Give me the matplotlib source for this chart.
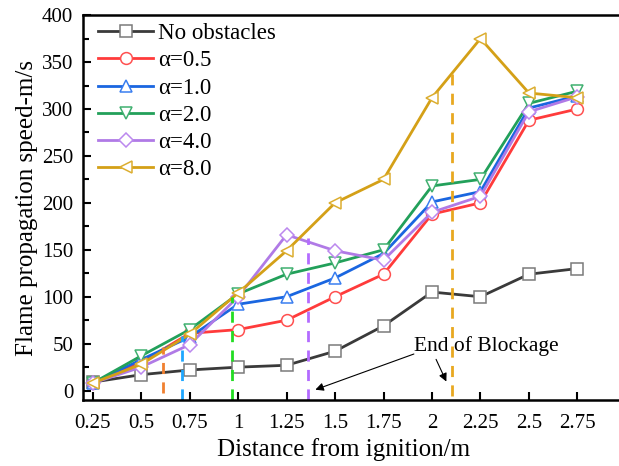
import matplotlib
matplotlib.use("Agg")
import matplotlib.pyplot as plt

# Distance from ignition (m) and flame speed (m/s) for each blockage ratio
distance = [0.25, 0.5, 0.75, 1.0, 1.25, 1.5, 1.75, 2.0, 2.25, 2.5, 2.75]

no_obstacles = [9, 17, 22, 25, 27, 42, 69, 105, 100, 124, 130]
alpha_05 = [8, 30, 61, 65, 75, 100, 124, 188, 200, 288, 300]
alpha_10 = [8, 33, 57, 92, 100, 120, 146, 201, 212, 301, 314]
alpha_20 = [8, 37, 65, 103, 124, 136, 150, 218, 225, 306, 319]
alpha_40 = [8, 25, 49, 100, 166, 149, 139, 190, 207, 297, 313]
alpha_80 = [8, 28, 60, 104, 149, 200, 225, 312, 375, 317, 312]

series = [
    ("No obstacles", no_obstacles, "#3a3a3a", "#7a7a7a", "s"),
    ("α=0.5", alpha_05, "#ff3b3b", "#ff5050", "o"),
    ("α=1.0", alpha_10, "#1a66e0", "#3a7ef0", "^"),
    ("α=2.0", alpha_20, "#22a05a", "#40b070", "v"),
    ("α=4.0", alpha_40, "#b07ae6", "#bb88ee", "D"),
    ("α=8.0", alpha_80, "#d4a017", "#dcae30", "<"),
]

# end of the obstacle section for each case: x position, top of the dashed line
blockage_end_x = [0.615, 0.712, 0.968, 1.36, 2.105]
blockage_end_top = [47, 58, 100, 163, 337]
blockage_end_bottom = [-3, -10, -10, -10, -6]
blockage_colors = ["#f08030", "#1ea7ff", "#22dd22", "#b36bff", "#e8a820"]

plt.rcParams["font.family"] = ["Liberation Serif", "DejaVu Serif"]

fig = plt.figure(figsize=(6.19, 4.66), dpi=100)
ax = fig.add_axes([0.1341, 0.1416, 0.877, 0.826])

for label, vals, lc, mc, mk in series:
    ms = 7 if mk == "D" else 8.5
    ax.plot(distance, vals, color=lc, lw=2, marker=mk, ms=ms,
            mfc="white", mec=mc, mew=1.1, label=label)

for x, top, bot, c in zip(blockage_end_x, blockage_end_top,
                          blockage_end_bottom, blockage_colors):
    ax.plot([x, x], [bot, top], color=c, lw=2, ls=(0, (4, 3)))

ax.annotate("", xy=(1.385, 0), xytext=(1.92, 40),
            arrowprops=dict(arrowstyle="-|>", color="black", lw=0.8,
                            mutation_scale=12))
ax.annotate("", xy=(2.08, 7), xytext=(2.015, 36),
            arrowprops=dict(arrowstyle="-|>", color="black", lw=0.8,
                            mutation_scale=12))
ax.text(2.28, 48, "End of Blockage", fontsize=15.5, ha="center", va="center")

ax.set_xlim(0.2, 3.0)
ax.set_ylim(-10, 400)
ax.set_xticks(distance)
ax.set_xticklabels(["0.25", "0.5", "0.75", "1", "1.25", "1.5", "1.75",
                    "2", "2.25", "2.5", "2.75"])
ax.set_yticks(range(0, 401, 50))
ax.set_yticks(range(25, 400, 50), minor=True)
ax.tick_params(axis="both", which="major", direction="in", length=6,
               width=1.5, labelsize=15)
ax.tick_params(axis="x", which="major", pad=10)
ax.tick_params(axis="y", which="major", pad=7)
ax.tick_params(axis="y", which="minor", direction="in", length=4, width=1.5)
for sp in ax.spines.values():
    sp.set_linewidth(1.8)

ax.set_xlabel("Distance from ignition/m", fontsize=18, labelpad=5)
ax.xaxis.set_label_coords(0.48, -0.1)
ax.set_ylabel("Flame propagation speed-m/s", fontsize=18, labelpad=3)

ax.legend(loc="upper left", bbox_to_anchor=(0.013, 1.0), frameon=False,
          fontsize=16.5, handlelength=2.4, handletextpad=0.2,
          labelspacing=0.27, borderaxespad=0.1, borderpad=0.25)

fig.savefig("out.png", dpi=100)
